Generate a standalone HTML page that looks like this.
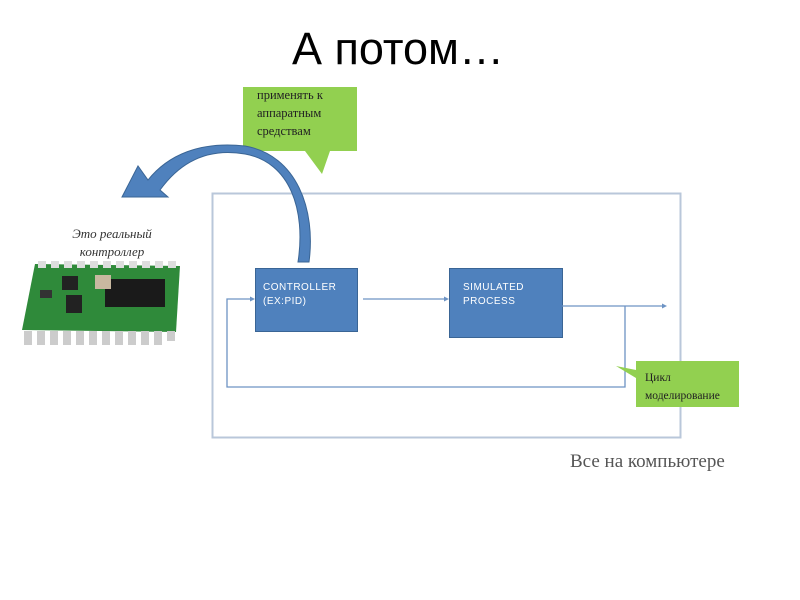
<!DOCTYPE html>
<html><head><meta charset="utf-8"><style>
body{margin:0;background:#fff;}
</style></head><body>
<svg width="800" height="600" xmlns="http://www.w3.org/2000/svg" style="display:block">
<rect width="800" height="600" fill="#fff"/>
<text x="398" y="64" text-anchor="middle" font-family="Liberation Sans, sans-serif" font-size="45" fill="#000">А потом…</text>
<!-- outer rect -->
<rect x="212.5" y="193.5" width="468" height="244" fill="none" stroke="#b9c7da" stroke-width="2"/>
<!-- callout 1 -->
<path d="M243 87 H357 V151 H330 L322 174 L305 151 H243 Z" fill="#92d050"/>
<text font-family="Liberation Serif, serif" font-size="12.5" fill="#222"><tspan x="257" y="99">применять к</tspan><tspan x="257" y="117">аппаратным</tspan><tspan x="257" y="135">средствам</tspan></text>
<!-- curved arrow -->
<path d="M298 262 C306 210 290 162 245 154 C205 147 178 165 160 190 L168 197 L122 197 L138 166 L148 180 C168 155 200 141 245 146 C297 155 316 210 309 262 Z" fill="#4f81bd" stroke="#3a6595" stroke-width="1"/>
<!-- real controller text -->
<text font-family="Liberation Serif, serif" font-style="italic" font-size="13" fill="#333" text-anchor="middle"><tspan x="112" y="238">Это реальный</tspan><tspan x="112" y="256">контроллер</tspan></text>
<!-- chip -->
<g>
<path d="M35 264 L180 266 L176 332 L22 330 Z" fill="#2f8a3a"/>
<rect x="105" y="279" width="60" height="28" fill="#1a1a1a"/>
<rect x="62" y="276" width="16" height="14" fill="#222"/>
<rect x="66" y="295" width="16" height="18" fill="#222"/>
<rect x="95" y="275" width="16" height="14" fill="#c8b8a0"/>
<rect x="40" y="290" width="12" height="8" fill="#333"/>
<g fill="#ccc">
<rect x="24" y="331" width="8" height="14"/><rect x="37" y="331" width="8" height="14"/><rect x="50" y="331" width="8" height="14"/><rect x="63" y="331" width="8" height="14"/><rect x="76" y="331" width="8" height="14"/><rect x="89" y="331" width="8" height="14"/><rect x="102" y="331" width="8" height="14"/><rect x="115" y="331" width="8" height="14"/><rect x="128" y="331" width="8" height="14"/><rect x="141" y="331" width="8" height="14"/><rect x="154" y="331" width="8" height="14"/><rect x="167" y="331" width="8" height="10"/>
</g>
<g fill="#ddd">
<rect x="38" y="261" width="8" height="7"/><rect x="51" y="261" width="8" height="7"/><rect x="64" y="261" width="8" height="7"/><rect x="77" y="261" width="8" height="7"/><rect x="90" y="261" width="8" height="7"/><rect x="103" y="261" width="8" height="7"/><rect x="116" y="261" width="8" height="7"/><rect x="129" y="261" width="8" height="7"/><rect x="142" y="261" width="8" height="7"/><rect x="155" y="261" width="8" height="7"/><rect x="168" y="261" width="8" height="7"/>
</g>
</g>
<!-- boxes -->
<rect x="255.5" y="268.5" width="102" height="63" fill="#4f81bd" stroke="#3a6595"/>
<text font-family="Liberation Sans, sans-serif" font-size="10" fill="#fff" letter-spacing="0.5"><tspan x="263" y="290">CONTROLLER</tspan><tspan x="263" y="304">(EX:PID)</tspan></text>
<rect x="449.5" y="268.5" width="113" height="69" fill="#4f81bd" stroke="#3a6595"/>
<text font-family="Liberation Sans, sans-serif" font-size="10" fill="#fff" letter-spacing="0.5"><tspan x="463" y="290">SIMULATED</tspan><tspan x="463" y="304">PROCESS</tspan></text>
<!-- connectors -->
<g stroke="#6d93c4" stroke-width="1.3" fill="none">
<path d="M363 299 H446"/>
<path d="M562 306 H663"/>
<path d="M625 306 V387 H227 V299 H252"/>
</g>
<g fill="#6d93c4">
<path d="M449 299 l-5 -2.5 v5 Z"/><path d="M667 306 l-5 -2.5 v5 Z"/><path d="M255 299 l-5 -2.5 v5 Z"/>
</g>
<!-- callout 2 -->
<path d="M636 361 H739 V407 H636 V378 L616 366 L636 370 Z" fill="#92d050"/>
<text font-family="Liberation Serif, serif" font-size="11.5" fill="#222"><tspan x="645" y="381">Цикл</tspan><tspan x="645" y="399">моделирование</tspan></text>
<text x="570" y="467" font-family="Liberation Serif, serif" font-size="19" fill="#555">Все на компьютере</text>
</svg>
</body></html>
